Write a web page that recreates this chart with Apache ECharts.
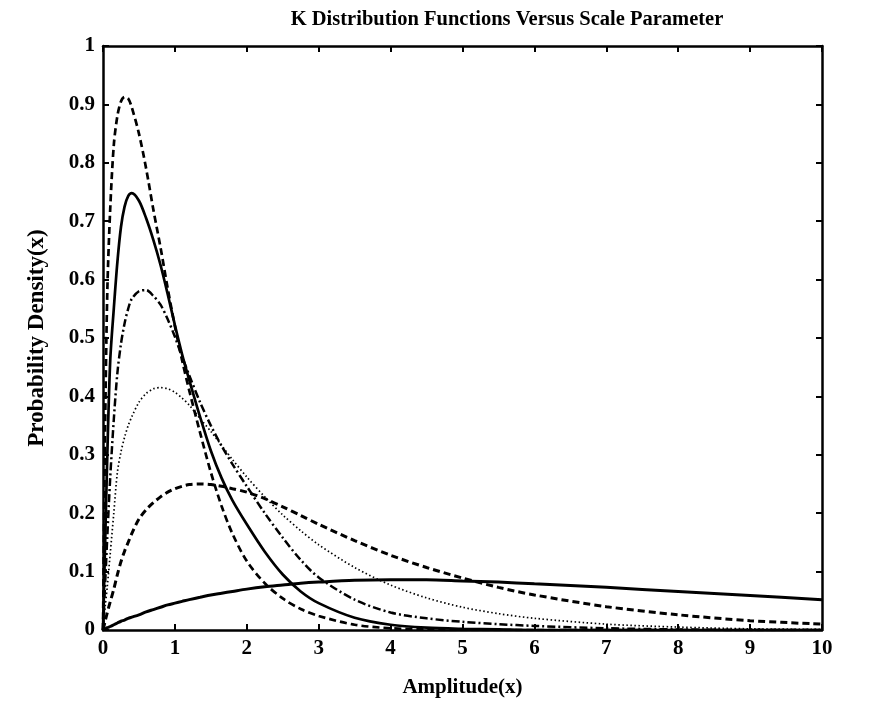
<!DOCTYPE html>
<html>
<head>
<meta charset="utf-8">
<script src="https://cdn.jsdelivr.net/npm/echarts@6/dist/echarts.min.js"></script>
<style>
  html, body { margin: 0; padding: 0; background: #ffffff; }
  #chart { width: 894px; height: 715px; }
</style>
</head>
<body>
<div id="chart"></div>
<script>
// Amplitude samples shared by every curve (denser near the origin where the peaks are sharp)
const amplitude = [0, 0.03, 0.06, 0.1, 0.15, 0.2, 0.25, 0.3, 0.35, 0.4, 0.5, 0.6, 0.7, 0.8, 0.9, 1.0,
  1.1, 1.2, 1.35, 1.5, 1.65, 1.8, 2.0, 2.25, 2.5, 2.75, 3.0, 3.5, 4.0, 4.5, 5.0, 5.5, 6.0, 7.0, 8.0, 9.0, 10.0];

// Probability density of each curve at those amplitudes
const curveDashedTall = [0, 0.35, 0.58, 0.72, 0.83, 0.88, 0.905, 0.913, 0.91, 0.895, 0.85, 0.79, 0.72, 0.655, 0.585, 0.52,
  0.462, 0.41, 0.338, 0.27, 0.212, 0.165, 0.118, 0.08, 0.054, 0.036, 0.024, 0.009, 0.003, 0.001, 0, 0, 0, 0, 0, 0, 0];
const curveSolidTall = [0, 0.15, 0.3, 0.46, 0.55, 0.63, 0.69, 0.725, 0.743, 0.748, 0.735, 0.705, 0.668, 0.625, 0.575, 0.522,
  0.472, 0.428, 0.365, 0.307, 0.26, 0.222, 0.181, 0.134, 0.095, 0.066, 0.046, 0.021, 0.009, 0.004, 0.002, 0.001, 0, 0, 0, 0, 0];
const curveDashDot = [0, 0.08, 0.16, 0.26, 0.36, 0.44, 0.49, 0.525, 0.55, 0.567, 0.58, 0.582, 0.572, 0.557, 0.532, 0.502,
  0.468, 0.436, 0.39, 0.35, 0.315, 0.284, 0.246, 0.2, 0.158, 0.12, 0.09, 0.052, 0.03, 0.02, 0.014, 0.01, 0.007, 0.003, 0.001, 0, 0];
const curveDotted = [0, 0.04, 0.075, 0.13, 0.2, 0.27, 0.305, 0.33, 0.35, 0.365, 0.39, 0.405, 0.413, 0.415, 0.413, 0.407,
  0.397, 0.385, 0.362, 0.34, 0.316, 0.292, 0.262, 0.228, 0.197, 0.17, 0.146, 0.107, 0.077, 0.055, 0.039, 0.028, 0.02, 0.01, 0.005, 0.002, 0.001];
const curveDashedWide = [0, 0.015, 0.03, 0.048, 0.07, 0.095, 0.117, 0.135, 0.15, 0.165, 0.19, 0.206, 0.218, 0.228, 0.236, 0.242,
  0.246, 0.249, 0.25, 0.249, 0.246, 0.242, 0.236, 0.225, 0.211, 0.196, 0.181, 0.153, 0.128, 0.107, 0.089, 0.073, 0.06, 0.04, 0.026, 0.016, 0.01];
const curveSolidFlat = [0, 0.002, 0.004, 0.006, 0.009, 0.012, 0.015, 0.017, 0.02, 0.022, 0.026, 0.031, 0.035, 0.039, 0.043, 0.046,
  0.049, 0.052, 0.056, 0.06, 0.063, 0.066, 0.07, 0.074, 0.077, 0.08, 0.082, 0.085, 0.086, 0.086, 0.084, 0.082, 0.079, 0.073, 0.066, 0.059, 0.052];

// Axis tick values
const xTicks = [0, 1, 2, 3, 4, 5, 6, 7, 8, 9, 10];
const yTicks = [0, 0.1, 0.2, 0.3, 0.4, 0.5, 0.6, 0.7, 0.8, 0.9, 1];

const FONT = '"Liberation Serif", "DejaVu Serif", serif';
const INK = '#000000';

function pairs(values) {
  return amplitude.map((x, i) => [x, values[i]]);
}

const curves = [
  { data: curveDashedTall, width: 2.7, type: [7, 4] },
  { data: curveSolidTall, width: 2.7, type: 'solid' },
  { data: curveDashDot, width: 2.5, type: [8, 3, 2, 3] },
  { data: curveDotted, width: 1.7, type: [1.5, 2.5] },
  { data: curveDashedWide, width: 3, type: [7, 4] },
  { data: curveSolidFlat, width: 3, type: 'solid' }
];

// Shared look of the four frame sides: heavy black line, short ticks pointing inward
const frameAxis = {
  min: 0,
  axisLine: { show: true, onZero: false, lineStyle: { color: INK, width: 2.5 } },
  axisTick: { show: true, inside: true, length: 6, lineStyle: { color: INK, width: 2 } },
  splitLine: { show: false }
};

const chart = echarts.init(document.getElementById('chart'), null, { renderer: 'canvas' });

chart.setOption({
  backgroundColor: '#ffffff',
  animation: false,
  title: {
    text: 'K Distribution Functions Versus Scale Parameter',
    left: 502,
    top: 4,
    textAlign: 'center',
    textStyle: { fontFamily: FONT, fontWeight: 'bold', fontSize: 20.5, color: INK }
  },
  grid: { left: 103, top: 46, width: 719, height: 584, containLabel: false },
  xAxis: [
    Object.assign({}, frameAxis, {
      type: 'value', position: 'bottom', max: xTicks[xTicks.length - 1], interval: 1,
      name: 'Amplitude(x)', nameLocation: 'middle', nameGap: 47,
      nameTextStyle: { fontFamily: FONT, fontWeight: 'bold', fontSize: 21, color: INK },
      axisLabel: { show: true, margin: 8, fontFamily: FONT, fontWeight: 'bold', fontSize: 21, color: INK }
    }),
    Object.assign({}, frameAxis, {
      type: 'value', position: 'top', max: xTicks[xTicks.length - 1], interval: 1,
      axisLabel: { show: false }
    })
  ],
  yAxis: [
    Object.assign({}, frameAxis, {
      type: 'value', position: 'left', max: yTicks[yTicks.length - 1], interval: 0.1,
      name: 'Probability Density(x)', nameLocation: 'middle', nameGap: 54, nameRotate: 90,
      nameTextStyle: { fontFamily: FONT, fontWeight: 'bold', fontSize: 23, color: INK },
      axisLabel: { show: true, margin: 8, fontFamily: FONT, fontWeight: 'bold', fontSize: 21, color: INK }
    }),
    Object.assign({}, frameAxis, {
      type: 'value', position: 'right', max: yTicks[yTicks.length - 1], interval: 0.1,
      axisLabel: { show: false }
    })
  ],
  series: curves.map(c => ({
    type: 'line',
    data: pairs(c.data),
    showSymbol: false,
    smooth: 0.3,
    clip: true,
    lineStyle: { color: INK, width: c.width, type: c.type, cap: 'butt' }
  }))
});
</script>
</body>
</html>
